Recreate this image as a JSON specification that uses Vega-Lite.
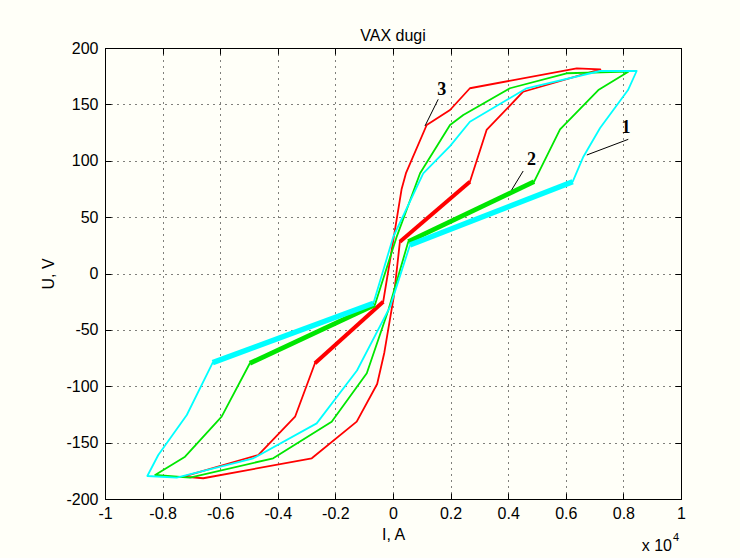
{
  "$schema": "https://vega.github.io/schema/vega-lite/v6.json",
  "width": 576,
  "height": 451,
  "autosize": "none",
  "padding": {"left": 105, "top": 48, "right": 59, "bottom": 59},
  "background": "#fffff8",
  "config": {
    "view": {"stroke": "#000000", "strokeWidth": 1, "fill": "#fffff8"},
    "font": "Liberation Sans"
  },
  "title": {"text": "VAX dugi", "fontSize": 16, "fontWeight": "normal", "color": "#000000", "font": "Liberation Sans", "offset": -4},
  "datasets": {
    "loops": [
      {"s": "3", "i": 0, "x": 0.72, "y": 181},
      {"s": "3", "i": 1, "x": 0.452, "y": 161.2},
      {"s": "3", "i": 2, "x": 0.325, "y": 127.3},
      {"s": "3", "i": 3, "x": 0.267, "y": 81.4},
      {"s": "3", "i": 4, "x": 0.024, "y": 28.2},
      {"s": "3", "i": 5, "x": 0.003, "y": -20},
      {"s": "3", "i": 6, "x": -0.03, "y": -70},
      {"s": "3", "i": 7, "x": -0.055, "y": -98},
      {"s": "3", "i": 8, "x": -0.126, "y": -131.4},
      {"s": "3", "i": 9, "x": -0.282, "y": -163.9},
      {"s": "3", "i": 10, "x": -0.659, "y": -181.6},
      {"s": "3", "i": 11, "x": -0.728, "y": -180.2},
      {"s": "3", "i": 12, "x": -0.468, "y": -161},
      {"s": "3", "i": 13, "x": -0.34, "y": -127},
      {"s": "3", "i": 14, "x": -0.271, "y": -79.6},
      {"s": "3", "i": 15, "x": -0.034, "y": -25},
      {"s": "3", "i": 16, "x": -0.005, "y": 20},
      {"s": "3", "i": 17, "x": 0.03, "y": 75},
      {"s": "3", "i": 18, "x": 0.045, "y": 89},
      {"s": "3", "i": 19, "x": 0.117, "y": 131.7},
      {"s": "3", "i": 20, "x": 0.198, "y": 145},
      {"s": "3", "i": 21, "x": 0.267, "y": 164.3},
      {"s": "3", "i": 22, "x": 0.638, "y": 182},
      {"s": "3", "i": 23, "x": 0.72, "y": 181},
      {"s": "2", "i": 0, "x": 0.817, "y": 179},
      {"s": "2", "i": 1, "x": 0.713, "y": 162.7},
      {"s": "2", "i": 2, "x": 0.58, "y": 127.9},
      {"s": "2", "i": 3, "x": 0.49, "y": 81.4},
      {"s": "2", "i": 4, "x": 0.053, "y": 28.2},
      {"s": "2", "i": 5, "x": -0.016, "y": -32.4},
      {"s": "2", "i": 6, "x": -0.091, "y": -88.5},
      {"s": "2", "i": 7, "x": -0.213, "y": -131.4},
      {"s": "2", "i": 8, "x": -0.416, "y": -163.9},
      {"s": "2", "i": 9, "x": -0.705, "y": -181.1},
      {"s": "2", "i": 10, "x": -0.826, "y": -178.7},
      {"s": "2", "i": 11, "x": -0.722, "y": -162.5},
      {"s": "2", "i": 12, "x": -0.595, "y": -127},
      {"s": "2", "i": 13, "x": -0.497, "y": -79.6},
      {"s": "2", "i": 14, "x": -0.063, "y": -27.9},
      {"s": "2", "i": 15, "x": 0.012, "y": 32},
      {"s": "2", "i": 16, "x": 0.094, "y": 88.9},
      {"s": "2", "i": 17, "x": 0.198, "y": 131.7},
      {"s": "2", "i": 18, "x": 0.244, "y": 140.6},
      {"s": "2", "i": 19, "x": 0.406, "y": 164.3},
      {"s": "2", "i": 20, "x": 0.603, "y": 177.6},
      {"s": "2", "i": 21, "x": 0.817, "y": 179},
      {"s": "1", "i": 0, "x": 0.846, "y": 179.6},
      {"s": "1", "i": 1, "x": 0.816, "y": 162.7},
      {"s": "1", "i": 2, "x": 0.719, "y": 129},
      {"s": "1", "i": 3, "x": 0.661, "y": 103.6},
      {"s": "1", "i": 4, "x": 0.624, "y": 81.4},
      {"s": "1", "i": 5, "x": 0.059, "y": 25.3},
      {"s": "1", "i": 6, "x": -0.01, "y": -29.4},
      {"s": "1", "i": 7, "x": -0.125, "y": -86},
      {"s": "1", "i": 8, "x": -0.265, "y": -132.9},
      {"s": "1", "i": 9, "x": -0.485, "y": -163.9},
      {"s": "1", "i": 10, "x": -0.751, "y": -181.1},
      {"s": "1", "i": 11, "x": -0.853, "y": -179.6},
      {"s": "1", "i": 12, "x": -0.815, "y": -161},
      {"s": "1", "i": 13, "x": -0.716, "y": -125.5},
      {"s": "1", "i": 14, "x": -0.626, "y": -79.1},
      {"s": "1", "i": 15, "x": -0.068, "y": -26.4},
      {"s": "1", "i": 16, "x": 0.001, "y": 32.6},
      {"s": "1", "i": 17, "x": 0.105, "y": 88.9},
      {"s": "1", "i": 18, "x": 0.198, "y": 113},
      {"s": "1", "i": 19, "x": 0.267, "y": 134.6},
      {"s": "1", "i": 20, "x": 0.464, "y": 164.3},
      {"s": "1", "i": 21, "x": 0.719, "y": 179.6},
      {"s": "1", "i": 22, "x": 0.846, "y": 179.6}
    ],
    "thick": [
      {"s": "3", "x": 0.267, "y": 81.4, "x2": 0.024, "y2": 28.2},
      {"s": "3", "x": -0.271, "y": -79.6, "x2": -0.034, "y2": -25},
      {"s": "2", "x": 0.49, "y": 81.4, "x2": 0.053, "y2": 28.2},
      {"s": "2", "x": -0.497, "y": -79.6, "x2": -0.063, "y2": -27.9},
      {"s": "1", "x": 0.624, "y": 81.4, "x2": 0.059, "y2": 25.3},
      {"s": "1", "x": -0.626, "y": -79.1, "x2": -0.068, "y2": -26.4}
    ],
    "leaders": [
      {"x": 0.157, "y": 154.5, "x2": 0.111, "y2": 130.8},
      {"x": 0.452, "y": 90.9, "x2": 0.412, "y2": 74.1},
      {"x": 0.817, "y": 119, "x2": 0.673, "y2": 105.1}
    ],
    "notes": [
      {"t": "3", "x": 0.169, "y": 162.7},
      {"t": "2", "x": 0.481, "y": 100.7},
      {"t": "1", "x": 0.809, "y": 128.8}
    ],
    "corner": [
      {"x": 1, "y": -200}
    ]
  },
  "layer": [
    {
      "data": {"name": "loops"},
      "mark": {"type": "line", "strokeWidth": 1.8, "strokeJoin": "round", "strokeCap": "round"},
      "encoding": {
        "x": {
          "field": "x", "type": "quantitative",
          "scale": {"domain": [-1, 1], "nice": false, "zero": false},
          "axis": {
            "orient": "bottom", "title": "I, A",
            "values": [-1, -0.8, -0.6, -0.4, -0.2, 0, 0.2, 0.4, 0.6, 0.8, 1],
            "labelExpr": "'' + datum.value",
            "grid": true, "gridColor": "#000000", "gridDash": [1, 5], "gridOpacity": 1, "gridWidth": 1,
            "domain": false, "ticks": true, "tickSize": -6, "tickColor": "#000000", "tickWidth": 1,
            "labelPadding": 12, "labelFontSize": 16, "labelColor": "#000000", "labelFont": "Liberation Sans",
            "labelFlush": false, "labelOverlap": false,
            "titleFontSize": 16, "titleFontWeight": "normal", "titleColor": "#000000", "titleFont": "Liberation Sans", "titlePadding": 5
          }
        },
        "y": {
          "field": "y", "type": "quantitative",
          "scale": {"domain": [-200, 200], "nice": false, "zero": false},
          "axis": {
            "orient": "left", "title": "U, V",
            "values": [-200, -150, -100, -50, 0, 50, 100, 150, 200],
            "labelExpr": "'' + datum.value",
            "grid": true, "gridColor": "#000000", "gridDash": [1, 5], "gridOpacity": 1, "gridWidth": 1,
            "domain": false, "ticks": true, "tickSize": -6, "tickColor": "#000000", "tickWidth": 1,
            "labelPadding": 13, "labelFontSize": 16, "labelColor": "#000000", "labelFont": "Liberation Sans",
            "labelFlush": false, "labelOverlap": false,
            "titleFontSize": 16, "titleFontWeight": "normal", "titleColor": "#000000", "titleFont": "Liberation Sans", "titlePadding": 9
          }
        },
        "color": {
          "field": "s", "type": "nominal",
          "scale": {"domain": ["3", "2", "1"], "range": ["#ff0000", "#00e600", "#00ffff"]},
          "legend": null
        },
        "order": {"field": "i", "type": "quantitative"}
      }
    },
    {
      "data": {"name": "thick"},
      "mark": {"type": "rule", "strokeCap": "butt"},
      "encoding": {
        "x": {
          "field": "x", "type": "quantitative",
          "axis": {
            "orient": "top", "title": null, "labels": false, "grid": false, "domain": false,
            "values": [-1, -0.8, -0.6, -0.4, -0.2, 0, 0.2, 0.4, 0.6, 0.8, 1],
            "ticks": true, "tickSize": -6, "tickColor": "#000000", "tickWidth": 1
          }
        },
        "y": {
          "field": "y", "type": "quantitative",
          "axis": {
            "orient": "right", "title": null, "labels": false, "grid": false, "domain": false,
            "values": [-200, -150, -100, -50, 0, 50, 100, 150, 200],
            "ticks": true, "tickSize": -6, "tickColor": "#000000", "tickWidth": 1
          }
        },
        "x2": {"field": "x2"},
        "y2": {"field": "y2"},
        "color": {
          "field": "s", "type": "nominal",
          "scale": {"domain": ["3", "2", "1"], "range": ["#ff0000", "#00e600", "#00ffff"]},
          "legend": null
        },
        "strokeWidth": {
          "field": "s", "type": "ordinal",
          "scale": {"domain": ["3", "2", "1"], "range": [4, 5.5, 7]},
          "legend": null
        }
      }
    },
    {
      "data": {"name": "leaders"},
      "mark": {"type": "rule", "color": "#000000", "strokeWidth": 1},
      "encoding": {
        "x": {"field": "x", "type": "quantitative", "axis": null},
        "y": {"field": "y", "type": "quantitative", "axis": null},
        "x2": {"field": "x2"},
        "y2": {"field": "y2"}
      }
    },
    {
      "data": {"name": "notes"},
      "mark": {"type": "text", "font": "Liberation Serif", "fontWeight": "bold", "fontSize": 18, "color": "#000000", "align": "center", "baseline": "middle"},
      "encoding": {
        "x": {"field": "x", "type": "quantitative", "axis": null},
        "y": {"field": "y", "type": "quantitative", "axis": null},
        "text": {"field": "t"}
      }
    },
    {
      "data": {"name": "corner"},
      "mark": {"type": "text", "text": "x 10", "font": "Liberation Sans", "fontSize": 16, "color": "#000000", "align": "right", "baseline": "alphabetic", "dx": -9, "dy": 52},
      "encoding": {
        "x": {"field": "x", "type": "quantitative", "axis": null},
        "y": {"field": "y", "type": "quantitative", "axis": null}
      }
    },
    {
      "data": {"name": "corner"},
      "mark": {"type": "text", "text": "4", "font": "Liberation Sans", "fontSize": 11, "color": "#000000", "align": "left", "baseline": "alphabetic", "dx": -8, "dy": 42},
      "encoding": {
        "x": {"field": "x", "type": "quantitative", "axis": null},
        "y": {"field": "y", "type": "quantitative", "axis": null}
      }
    }
  ],
  "resolve": {"axis": {"x": "independent", "y": "independent"}}
}
